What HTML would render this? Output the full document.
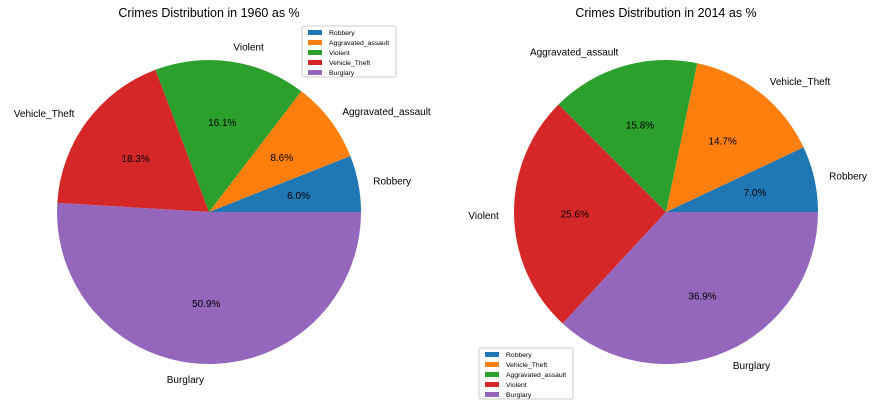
<!DOCTYPE html>
<html><head><meta charset="utf-8"><style>
body{margin:0;background:#fff;font-family:"Liberation Sans","DejaVu Sans",sans-serif}
svg text{font-family:"Liberation Sans","DejaVu Sans",sans-serif}
</style></head><body>
<svg id="c" width="877" height="410"></svg>
<script>
const labels1960 = ["Robbery","Aggravated_assault","Violent","Vehicle_Theft","Burglary"];
const values1960 = [6.0, 8.6, 16.1, 18.3, 50.9];
const labels2014 = ["Robbery","Vehicle_Theft","Aggravated_assault","Violent","Burglary"];
const values2014 = [7.0, 14.7, 15.8, 25.6, 36.9];
const colors = ["#1f77b4","#ff7f0e","#2ca02c","#d62728","#9467bd"];
const NS="http://www.w3.org/2000/svg";
const svg=document.getElementById('c');
function mk(t,a,p){const e=document.createElementNS(NS,t);for(const k in a)e.setAttribute(k,a[k]);(p||svg).appendChild(e);return e;}
function pie(cx,cy,r,labels,values,title,lx,ly,key){
  const g=mk('g',{});
  
  
  const t=mk('text',{x:cx,y:17,'text-anchor':'middle','font-size':12.5,fill:'#000'},g);
  t.textContent=title;
  
  
  const tot=values.reduce((a,b)=>a+b,0);
  let a0=0;
  values.forEach((v,i)=>{
    const a1=a0+v/tot*2*Math.PI;
    const x0=cx+r*Math.cos(a0),y0=cy-r*Math.sin(a0),x1=cx+r*Math.cos(a1),y1=cy-r*Math.sin(a1);
    const large=(a1-a0)>Math.PI?1:0;
    const p=mk('path',{d:`M${cx},${cy}L${x0},${y0}A${r},${r} 0 ${large} 0 ${x1},${y1}Z`,fill:colors[i]},g);
    
    
    const m=(a0+a1)/2,c=Math.cos(m),s=Math.sin(m);
    const lt=mk('text',{x:cx+1.1*r*c,y:cy-1.1*r*s+4,'text-anchor':c>0.01?'start':(c<-0.01?'end':'middle'),'font-size':10,fill:'#000'},g);
    lt.textContent=labels[i];
    
    
    const pt=mk('text',{x:cx+0.6*r*c,y:cy-0.6*r*s+4,'text-anchor':'middle','font-size':10,fill:'#000'},g);
    pt.textContent=v.toFixed(1)+'%';
    
    
    a0=a1;
  });
  const lg=mk('g',{},g);
  
  
  mk('rect',{x:lx,y:ly,width:94,height:51,fill:'#fff',stroke:'#ccc','stroke-width':1,rx:2},lg);
  labels.forEach((l,i)=>{
    const y=ly+4+i*10;
    const r2=mk('rect',{x:lx+6,y:y,width:14,height:5,fill:colors[i]},lg);
    
    
    const tt=mk('text',{x:lx+27,y:y+5,'font-size':6.8,fill:'#000'},lg);
    tt.textContent=l;
    
    
  });
}
pie(209,212,152,labels1960,values1960,"Crimes Distribution in 1960 as %",302,26,'pie-1960');
pie(666,212,152,labels2014,values2014,"Crimes Distribution in 2014 as %",479,348,'pie-2014');
</script>
</body></html>
